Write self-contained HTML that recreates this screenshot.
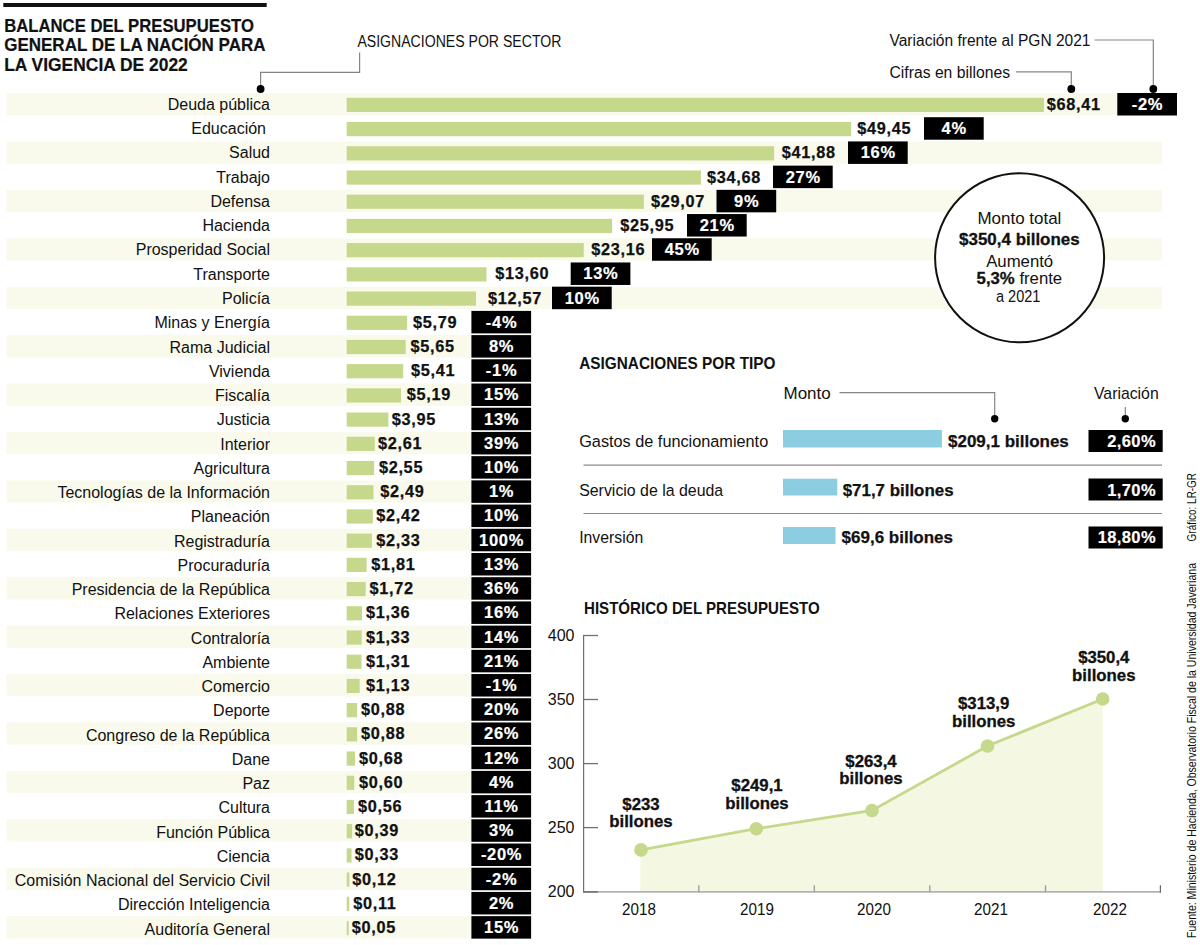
<!DOCTYPE html><html><head><meta charset="utf-8"><style>html,body{margin:0;padding:0;background:#fff;}body{width:1200px;height:945px;overflow:hidden;}svg{display:block;font-family:"Liberation Sans",sans-serif;}</style></head><body>
<svg width="1200" height="945" viewBox="0 0 1200 945">
<rect x="0" y="0" width="1200" height="945" fill="#fff"/>
<rect x="6.5" y="93.00" width="1155.50" height="22.3" fill="#f9faec"/>
<rect x="6.5" y="141.42" width="1155.50" height="22.3" fill="#f9faec"/>
<rect x="6.5" y="189.84" width="1155.50" height="22.3" fill="#f9faec"/>
<rect x="6.5" y="238.26" width="1155.50" height="22.3" fill="#f9faec"/>
<rect x="6.5" y="286.68" width="1155.50" height="22.3" fill="#f9faec"/>
<rect x="6.5" y="335.10" width="465.00" height="22.3" fill="#f9faec"/>
<rect x="6.5" y="383.52" width="465.00" height="22.3" fill="#f9faec"/>
<rect x="6.5" y="431.94" width="465.00" height="22.3" fill="#f9faec"/>
<rect x="6.5" y="480.36" width="465.00" height="22.3" fill="#f9faec"/>
<rect x="6.5" y="528.78" width="465.00" height="22.3" fill="#f9faec"/>
<rect x="6.5" y="577.20" width="465.00" height="22.3" fill="#f9faec"/>
<rect x="6.5" y="625.62" width="465.00" height="22.3" fill="#f9faec"/>
<rect x="6.5" y="674.04" width="465.00" height="22.3" fill="#f9faec"/>
<rect x="6.5" y="722.46" width="465.00" height="22.3" fill="#f9faec"/>
<rect x="6.5" y="770.88" width="465.00" height="22.3" fill="#f9faec"/>
<rect x="6.5" y="819.30" width="465.00" height="22.3" fill="#f9faec"/>
<rect x="6.5" y="867.72" width="465.00" height="22.3" fill="#f9faec"/>
<rect x="6.5" y="916.14" width="465.00" height="22.3" fill="#f9faec"/>
<circle cx="1019.6" cy="257.8" r="84.5" fill="#fff" stroke="#111" stroke-width="2"/>
<rect x="346.7" y="97.80" width="697.23" height="14.2" fill="#c5d88b"/>
<text x="270" y="109.90" font-size="16" text-anchor="end" fill="#111">Deuda pública</text>
<text x="1046.80" y="109.90" font-size="16.3" letter-spacing="0.7" font-weight="bold" fill="#111" stroke="#111" stroke-width="0.25">$68,41</text>
<rect x="1117.3" y="93.00" width="59.7" height="22.5" fill="#000"/>
<text x="1147.50" y="109.90" font-size="16.5" letter-spacing="0.7" font-weight="bold" fill="#fff" stroke="#fff" stroke-width="0.2" text-anchor="middle">-2%</text>
<rect x="346.7" y="122.01" width="504.41" height="14.2" fill="#c5d88b"/>
<text x="266" y="134.16" font-size="16" text-anchor="end" fill="#111">Educación</text>
<text x="857.30" y="134.11" font-size="16.3" letter-spacing="0.7" font-weight="bold" fill="#111" stroke="#111" stroke-width="0.25">$49,45</text>
<rect x="924" y="117.21" width="59.7" height="22.5" fill="#000"/>
<text x="954.20" y="134.11" font-size="16.5" letter-spacing="0.7" font-weight="bold" fill="#fff" stroke="#fff" stroke-width="0.2" text-anchor="middle">4%</text>
<rect x="346.7" y="146.22" width="427.42" height="14.2" fill="#c5d88b"/>
<text x="270" y="158.42" font-size="16" text-anchor="end" fill="#111">Salud</text>
<text x="781.70" y="158.32" font-size="16.3" letter-spacing="0.7" font-weight="bold" fill="#111" stroke="#111" stroke-width="0.25">$41,88</text>
<rect x="848" y="141.42" width="59.7" height="22.5" fill="#000"/>
<text x="878.20" y="158.32" font-size="16.5" letter-spacing="0.7" font-weight="bold" fill="#fff" stroke="#fff" stroke-width="0.2" text-anchor="middle">16%</text>
<rect x="346.7" y="170.43" width="354.20" height="14.2" fill="#c5d88b"/>
<text x="270" y="182.68" font-size="16" text-anchor="end" fill="#111">Trabajo</text>
<text x="707.00" y="182.53" font-size="16.3" letter-spacing="0.7" font-weight="bold" fill="#111" stroke="#111" stroke-width="0.25">$34,68</text>
<rect x="773" y="165.63" width="59.7" height="22.5" fill="#000"/>
<text x="803.20" y="182.53" font-size="16.5" letter-spacing="0.7" font-weight="bold" fill="#fff" stroke="#fff" stroke-width="0.2" text-anchor="middle">27%</text>
<rect x="346.7" y="194.64" width="297.14" height="14.2" fill="#c5d88b"/>
<text x="270" y="206.94" font-size="16" text-anchor="end" fill="#111">Defensa</text>
<text x="650.90" y="206.74" font-size="16.3" letter-spacing="0.7" font-weight="bold" fill="#111" stroke="#111" stroke-width="0.25">$29,07</text>
<rect x="716.5" y="189.84" width="59.7" height="22.5" fill="#000"/>
<text x="746.70" y="206.74" font-size="16.5" letter-spacing="0.7" font-weight="bold" fill="#fff" stroke="#fff" stroke-width="0.2" text-anchor="middle">9%</text>
<rect x="346.7" y="218.85" width="265.41" height="14.2" fill="#c5d88b"/>
<text x="270" y="231.20" font-size="16" text-anchor="end" fill="#111">Hacienda</text>
<text x="620.30" y="230.95" font-size="16.3" letter-spacing="0.7" font-weight="bold" fill="#111" stroke="#111" stroke-width="0.25">$25,95</text>
<rect x="687" y="214.05" width="59.7" height="22.5" fill="#000"/>
<text x="717.20" y="230.95" font-size="16.5" letter-spacing="0.7" font-weight="bold" fill="#fff" stroke="#fff" stroke-width="0.2" text-anchor="middle">21%</text>
<rect x="346.7" y="243.06" width="237.04" height="14.2" fill="#c5d88b"/>
<text x="270" y="255.46" font-size="16" text-anchor="end" fill="#111">Prosperidad Social</text>
<text x="591.30" y="255.16" font-size="16.3" letter-spacing="0.7" font-weight="bold" fill="#111" stroke="#111" stroke-width="0.25">$23,16</text>
<rect x="652" y="238.26" width="59.7" height="22.5" fill="#000"/>
<text x="682.20" y="255.16" font-size="16.5" letter-spacing="0.7" font-weight="bold" fill="#fff" stroke="#fff" stroke-width="0.2" text-anchor="middle">45%</text>
<rect x="346.7" y="267.27" width="139.81" height="14.2" fill="#c5d88b"/>
<text x="270" y="279.72" font-size="16" text-anchor="end" fill="#111">Transporte</text>
<text x="495.30" y="279.37" font-size="16.3" letter-spacing="0.7" font-weight="bold" fill="#111" stroke="#111" stroke-width="0.25">$13,60</text>
<rect x="570.7" y="262.47" width="59.7" height="22.5" fill="#000"/>
<text x="600.90" y="279.37" font-size="16.5" letter-spacing="0.7" font-weight="bold" fill="#fff" stroke="#fff" stroke-width="0.2" text-anchor="middle">13%</text>
<rect x="346.7" y="291.48" width="129.34" height="14.2" fill="#c5d88b"/>
<text x="270" y="303.98" font-size="16" text-anchor="end" fill="#111">Policía</text>
<text x="488.10" y="303.58" font-size="16.3" letter-spacing="0.7" font-weight="bold" fill="#111" stroke="#111" stroke-width="0.25">$12,57</text>
<rect x="552" y="286.68" width="59.7" height="22.5" fill="#000"/>
<text x="582.20" y="303.58" font-size="16.5" letter-spacing="0.7" font-weight="bold" fill="#fff" stroke="#fff" stroke-width="0.2" text-anchor="middle">10%</text>
<rect x="346.7" y="315.69" width="60.38" height="14.2" fill="#c5d88b"/>
<text x="270" y="328.24" font-size="16" text-anchor="end" fill="#111">Minas y Energía</text>
<text x="413.05" y="327.79" font-size="16.3" letter-spacing="0.7" font-weight="bold" fill="#111" stroke="#111" stroke-width="0.25">$5,79</text>
<rect x="471.4" y="310.89" width="59.7" height="22.5" fill="#000"/>
<text x="501.60" y="327.79" font-size="16.5" letter-spacing="0.7" font-weight="bold" fill="#fff" stroke="#fff" stroke-width="0.2" text-anchor="middle">-4%</text>
<rect x="346.7" y="339.90" width="58.96" height="14.2" fill="#c5d88b"/>
<text x="270" y="352.50" font-size="16" text-anchor="end" fill="#111">Rama Judicial</text>
<text x="410.55" y="352.00" font-size="16.3" letter-spacing="0.7" font-weight="bold" fill="#111" stroke="#111" stroke-width="0.25">$5,65</text>
<rect x="471.4" y="335.10" width="59.7" height="22.5" fill="#000"/>
<text x="501.60" y="352.00" font-size="16.5" letter-spacing="0.7" font-weight="bold" fill="#fff" stroke="#fff" stroke-width="0.2" text-anchor="middle">8%</text>
<rect x="346.7" y="364.11" width="56.52" height="14.2" fill="#c5d88b"/>
<text x="270" y="376.76" font-size="16" text-anchor="end" fill="#111">Vivienda</text>
<text x="411.05" y="376.21" font-size="16.3" letter-spacing="0.7" font-weight="bold" fill="#111" stroke="#111" stroke-width="0.25">$5,41</text>
<rect x="471.4" y="359.31" width="59.7" height="22.5" fill="#000"/>
<text x="501.60" y="376.21" font-size="16.5" letter-spacing="0.7" font-weight="bold" fill="#fff" stroke="#fff" stroke-width="0.2" text-anchor="middle">-1%</text>
<rect x="346.7" y="388.32" width="54.28" height="14.2" fill="#c5d88b"/>
<text x="270" y="401.02" font-size="16" text-anchor="end" fill="#111">Fiscalía</text>
<text x="406.80" y="400.42" font-size="16.3" letter-spacing="0.7" font-weight="bold" fill="#111" stroke="#111" stroke-width="0.25">$5,19</text>
<rect x="471.4" y="383.52" width="59.7" height="22.5" fill="#000"/>
<text x="501.60" y="400.42" font-size="16.5" letter-spacing="0.7" font-weight="bold" fill="#fff" stroke="#fff" stroke-width="0.2" text-anchor="middle">15%</text>
<rect x="346.7" y="412.53" width="41.67" height="14.2" fill="#c5d88b"/>
<text x="270" y="425.28" font-size="16" text-anchor="end" fill="#111">Justicia</text>
<text x="391.80" y="424.63" font-size="16.3" letter-spacing="0.7" font-weight="bold" fill="#111" stroke="#111" stroke-width="0.25">$3,95</text>
<rect x="471.4" y="407.73" width="59.7" height="22.5" fill="#000"/>
<text x="501.60" y="424.63" font-size="16.5" letter-spacing="0.7" font-weight="bold" fill="#fff" stroke="#fff" stroke-width="0.2" text-anchor="middle">13%</text>
<rect x="346.7" y="436.74" width="28.04" height="14.2" fill="#c5d88b"/>
<text x="270" y="449.54" font-size="16" text-anchor="end" fill="#111">Interior</text>
<text x="378.05" y="448.84" font-size="16.3" letter-spacing="0.7" font-weight="bold" fill="#111" stroke="#111" stroke-width="0.25">$2,61</text>
<rect x="471.4" y="431.94" width="59.7" height="22.5" fill="#000"/>
<text x="501.60" y="448.84" font-size="16.5" letter-spacing="0.7" font-weight="bold" fill="#fff" stroke="#fff" stroke-width="0.2" text-anchor="middle">39%</text>
<rect x="346.7" y="460.95" width="27.43" height="14.2" fill="#c5d88b"/>
<text x="270" y="473.80" font-size="16" text-anchor="end" fill="#111">Agricultura</text>
<text x="378.90" y="473.05" font-size="16.3" letter-spacing="0.7" font-weight="bold" fill="#111" stroke="#111" stroke-width="0.25">$2,55</text>
<rect x="471.4" y="456.15" width="59.7" height="22.5" fill="#000"/>
<text x="501.60" y="473.05" font-size="16.5" letter-spacing="0.7" font-weight="bold" fill="#fff" stroke="#fff" stroke-width="0.2" text-anchor="middle">10%</text>
<rect x="346.7" y="485.16" width="26.82" height="14.2" fill="#c5d88b"/>
<text x="270" y="498.06" font-size="16" text-anchor="end" fill="#111">Tecnologías de la Información</text>
<text x="380.30" y="497.26" font-size="16.3" letter-spacing="0.7" font-weight="bold" fill="#111" stroke="#111" stroke-width="0.25">$2,49</text>
<rect x="471.4" y="480.36" width="59.7" height="22.5" fill="#000"/>
<text x="501.60" y="497.26" font-size="16.5" letter-spacing="0.7" font-weight="bold" fill="#fff" stroke="#fff" stroke-width="0.2" text-anchor="middle">1%</text>
<rect x="346.7" y="509.37" width="26.11" height="14.2" fill="#c5d88b"/>
<text x="270" y="522.32" font-size="16" text-anchor="end" fill="#111">Planeación</text>
<text x="376.20" y="521.47" font-size="16.3" letter-spacing="0.7" font-weight="bold" fill="#111" stroke="#111" stroke-width="0.25">$2,42</text>
<rect x="471.4" y="504.57" width="59.7" height="22.5" fill="#000"/>
<text x="501.60" y="521.47" font-size="16.5" letter-spacing="0.7" font-weight="bold" fill="#fff" stroke="#fff" stroke-width="0.2" text-anchor="middle">10%</text>
<rect x="346.7" y="533.58" width="25.20" height="14.2" fill="#c5d88b"/>
<text x="270" y="546.58" font-size="16" text-anchor="end" fill="#111">Registraduría</text>
<text x="376.20" y="545.68" font-size="16.3" letter-spacing="0.7" font-weight="bold" fill="#111" stroke="#111" stroke-width="0.25">$2,33</text>
<rect x="471.4" y="528.78" width="59.7" height="22.5" fill="#000"/>
<text x="501.60" y="545.68" font-size="16.5" letter-spacing="0.7" font-weight="bold" fill="#fff" stroke="#fff" stroke-width="0.2" text-anchor="middle">100%</text>
<rect x="346.7" y="557.79" width="19.91" height="14.2" fill="#c5d88b"/>
<text x="270" y="570.84" font-size="16" text-anchor="end" fill="#111">Procuraduría</text>
<text x="371.30" y="569.89" font-size="16.3" letter-spacing="0.7" font-weight="bold" fill="#111" stroke="#111" stroke-width="0.25">$1,81</text>
<rect x="471.4" y="552.99" width="59.7" height="22.5" fill="#000"/>
<text x="501.60" y="569.89" font-size="16.5" letter-spacing="0.7" font-weight="bold" fill="#fff" stroke="#fff" stroke-width="0.2" text-anchor="middle">13%</text>
<rect x="346.7" y="582.00" width="18.99" height="14.2" fill="#c5d88b"/>
<text x="270" y="595.10" font-size="16" text-anchor="end" fill="#111">Presidencia de la República</text>
<text x="369.50" y="594.10" font-size="16.3" letter-spacing="0.7" font-weight="bold" fill="#111" stroke="#111" stroke-width="0.25">$1,72</text>
<rect x="471.4" y="577.20" width="59.7" height="22.5" fill="#000"/>
<text x="501.60" y="594.10" font-size="16.5" letter-spacing="0.7" font-weight="bold" fill="#fff" stroke="#fff" stroke-width="0.2" text-anchor="middle">36%</text>
<rect x="346.7" y="606.21" width="15.33" height="14.2" fill="#c5d88b"/>
<text x="270" y="619.36" font-size="16" text-anchor="end" fill="#111">Relaciones Exteriores</text>
<text x="366.10" y="618.31" font-size="16.3" letter-spacing="0.7" font-weight="bold" fill="#111" stroke="#111" stroke-width="0.25">$1,36</text>
<rect x="471.4" y="601.41" width="59.7" height="22.5" fill="#000"/>
<text x="501.60" y="618.31" font-size="16.5" letter-spacing="0.7" font-weight="bold" fill="#fff" stroke="#fff" stroke-width="0.2" text-anchor="middle">16%</text>
<rect x="346.7" y="630.42" width="15.03" height="14.2" fill="#c5d88b"/>
<text x="270" y="643.62" font-size="16" text-anchor="end" fill="#111">Contraloría</text>
<text x="366.10" y="642.52" font-size="16.3" letter-spacing="0.7" font-weight="bold" fill="#111" stroke="#111" stroke-width="0.25">$1,33</text>
<rect x="471.4" y="625.62" width="59.7" height="22.5" fill="#000"/>
<text x="501.60" y="642.52" font-size="16.5" letter-spacing="0.7" font-weight="bold" fill="#fff" stroke="#fff" stroke-width="0.2" text-anchor="middle">14%</text>
<rect x="346.7" y="654.63" width="14.82" height="14.2" fill="#c5d88b"/>
<text x="270" y="667.88" font-size="16" text-anchor="end" fill="#111">Ambiente</text>
<text x="366.10" y="666.73" font-size="16.3" letter-spacing="0.7" font-weight="bold" fill="#111" stroke="#111" stroke-width="0.25">$1,31</text>
<rect x="471.4" y="649.83" width="59.7" height="22.5" fill="#000"/>
<text x="501.60" y="666.73" font-size="16.5" letter-spacing="0.7" font-weight="bold" fill="#fff" stroke="#fff" stroke-width="0.2" text-anchor="middle">21%</text>
<rect x="346.7" y="678.84" width="12.99" height="14.2" fill="#c5d88b"/>
<text x="270" y="692.14" font-size="16" text-anchor="end" fill="#111">Comercio</text>
<text x="366.10" y="690.94" font-size="16.3" letter-spacing="0.7" font-weight="bold" fill="#111" stroke="#111" stroke-width="0.25">$1,13</text>
<rect x="471.4" y="674.04" width="59.7" height="22.5" fill="#000"/>
<text x="501.60" y="690.94" font-size="16.5" letter-spacing="0.7" font-weight="bold" fill="#fff" stroke="#fff" stroke-width="0.2" text-anchor="middle">-1%</text>
<rect x="346.7" y="703.05" width="10.45" height="14.2" fill="#c5d88b"/>
<text x="270" y="716.40" font-size="16" text-anchor="end" fill="#111">Deporte</text>
<text x="361.00" y="715.15" font-size="16.3" letter-spacing="0.7" font-weight="bold" fill="#111" stroke="#111" stroke-width="0.25">$0,88</text>
<rect x="471.4" y="698.25" width="59.7" height="22.5" fill="#000"/>
<text x="501.60" y="715.15" font-size="16.5" letter-spacing="0.7" font-weight="bold" fill="#fff" stroke="#fff" stroke-width="0.2" text-anchor="middle">20%</text>
<rect x="346.7" y="727.26" width="10.45" height="14.2" fill="#c5d88b"/>
<text x="270" y="740.66" font-size="16" text-anchor="end" fill="#111">Congreso de la República</text>
<text x="361.00" y="739.36" font-size="16.3" letter-spacing="0.7" font-weight="bold" fill="#111" stroke="#111" stroke-width="0.25">$0,88</text>
<rect x="471.4" y="722.46" width="59.7" height="22.5" fill="#000"/>
<text x="501.60" y="739.36" font-size="16.5" letter-spacing="0.7" font-weight="bold" fill="#fff" stroke="#fff" stroke-width="0.2" text-anchor="middle">26%</text>
<rect x="346.7" y="751.47" width="8.42" height="14.2" fill="#c5d88b"/>
<text x="270" y="764.92" font-size="16" text-anchor="end" fill="#111">Dane</text>
<text x="359.00" y="763.57" font-size="16.3" letter-spacing="0.7" font-weight="bold" fill="#111" stroke="#111" stroke-width="0.25">$0,68</text>
<rect x="471.4" y="746.67" width="59.7" height="22.5" fill="#000"/>
<text x="501.60" y="763.57" font-size="16.5" letter-spacing="0.7" font-weight="bold" fill="#fff" stroke="#fff" stroke-width="0.2" text-anchor="middle">12%</text>
<rect x="346.7" y="775.68" width="7.60" height="14.2" fill="#c5d88b"/>
<text x="270" y="789.18" font-size="16" text-anchor="end" fill="#111">Paz</text>
<text x="359.00" y="787.78" font-size="16.3" letter-spacing="0.7" font-weight="bold" fill="#111" stroke="#111" stroke-width="0.25">$0,60</text>
<rect x="471.4" y="770.88" width="59.7" height="22.5" fill="#000"/>
<text x="501.60" y="787.78" font-size="16.5" letter-spacing="0.7" font-weight="bold" fill="#fff" stroke="#fff" stroke-width="0.2" text-anchor="middle">4%</text>
<rect x="346.7" y="799.89" width="7.20" height="14.2" fill="#c5d88b"/>
<text x="270" y="813.44" font-size="16" text-anchor="end" fill="#111">Cultura</text>
<text x="358.10" y="811.99" font-size="16.3" letter-spacing="0.7" font-weight="bold" fill="#111" stroke="#111" stroke-width="0.25">$0,56</text>
<rect x="471.4" y="795.09" width="59.7" height="22.5" fill="#000"/>
<text x="501.60" y="811.99" font-size="16.5" letter-spacing="0.7" font-weight="bold" fill="#fff" stroke="#fff" stroke-width="0.2" text-anchor="middle">11%</text>
<rect x="346.7" y="824.10" width="5.47" height="14.2" fill="#c5d88b"/>
<text x="270" y="837.70" font-size="16" text-anchor="end" fill="#111">Función Pública</text>
<text x="354.70" y="836.20" font-size="16.3" letter-spacing="0.7" font-weight="bold" fill="#111" stroke="#111" stroke-width="0.25">$0,39</text>
<rect x="471.4" y="819.30" width="59.7" height="22.5" fill="#000"/>
<text x="501.60" y="836.20" font-size="16.5" letter-spacing="0.7" font-weight="bold" fill="#fff" stroke="#fff" stroke-width="0.2" text-anchor="middle">3%</text>
<rect x="346.7" y="848.31" width="4.86" height="14.2" fill="#c5d88b"/>
<text x="270" y="861.96" font-size="16" text-anchor="end" fill="#111">Ciencia</text>
<text x="354.70" y="860.41" font-size="16.3" letter-spacing="0.7" font-weight="bold" fill="#111" stroke="#111" stroke-width="0.25">$0,33</text>
<rect x="471.4" y="843.51" width="59.7" height="22.5" fill="#000"/>
<text x="501.60" y="860.41" font-size="16.5" letter-spacing="0.7" font-weight="bold" fill="#fff" stroke="#fff" stroke-width="0.2" text-anchor="middle">-20%</text>
<rect x="346.7" y="872.52" width="2.72" height="14.2" fill="#c5d88b"/>
<text x="270" y="886.22" font-size="16" text-anchor="end" fill="#111">Comisión Nacional del Servicio Civil</text>
<text x="352.20" y="884.62" font-size="16.3" letter-spacing="0.7" font-weight="bold" fill="#111" stroke="#111" stroke-width="0.25">$0,12</text>
<rect x="471.4" y="867.72" width="59.7" height="22.5" fill="#000"/>
<text x="501.60" y="884.62" font-size="16.5" letter-spacing="0.7" font-weight="bold" fill="#fff" stroke="#fff" stroke-width="0.2" text-anchor="middle">-2%</text>
<rect x="346.7" y="896.73" width="2.62" height="14.2" fill="#c5d88b"/>
<text x="270" y="910.48" font-size="16" text-anchor="end" fill="#111">Dirección Inteligencia</text>
<text x="353.20" y="908.83" font-size="16.3" letter-spacing="0.7" font-weight="bold" fill="#111" stroke="#111" stroke-width="0.25">$0,11</text>
<rect x="471.4" y="891.93" width="59.7" height="22.5" fill="#000"/>
<text x="501.60" y="908.83" font-size="16.5" letter-spacing="0.7" font-weight="bold" fill="#fff" stroke="#fff" stroke-width="0.2" text-anchor="middle">2%</text>
<rect x="346.7" y="920.94" width="2.01" height="14.2" fill="#c5d88b"/>
<text x="270" y="934.74" font-size="16" text-anchor="end" fill="#111">Auditoría General</text>
<text x="351.80" y="933.04" font-size="16.3" letter-spacing="0.7" font-weight="bold" fill="#111" stroke="#111" stroke-width="0.25">$0,05</text>
<rect x="471.4" y="916.14" width="59.7" height="22.5" fill="#000"/>
<text x="501.60" y="933.04" font-size="16.5" letter-spacing="0.7" font-weight="bold" fill="#fff" stroke="#fff" stroke-width="0.2" text-anchor="middle">15%</text>
<rect x="3.3" y="3" width="263.4" height="4" fill="#111"/>
<text font-size="17.6" font-weight="bold" fill="#111" stroke="#111" stroke-width="0.2"><tspan x="4.2" y="31.5" textLength="249.7" lengthAdjust="spacingAndGlyphs">BALANCE DEL PRESUPUESTO</tspan><tspan x="4.2" y="51.3" textLength="261.3" lengthAdjust="spacingAndGlyphs">GENERAL DE LA NACIÓN PARA</tspan><tspan x="4.2" y="71.1" textLength="183.6" lengthAdjust="spacingAndGlyphs">LA VIGENCIA DE 2022</tspan></text>
<text x="357.4" y="46.6" font-size="16" fill="#111" textLength="204" lengthAdjust="spacingAndGlyphs">ASIGNACIONES POR SECTOR</text>
<text x="889.5" y="46.3" font-size="15.6" fill="#111" textLength="201" lengthAdjust="spacingAndGlyphs">Variación frente al PGN 2021</text>
<text x="889.5" y="77.5" font-size="15.6" fill="#111" textLength="120.5" lengthAdjust="spacingAndGlyphs">Cifras en billones</text>
<g fill="none" stroke="#858585" stroke-width="1.2"><polyline points="260.6,89 260.6,72.4 359.6,72.4 359.6,52.4"/><polyline points="1094.5,40 1153.3,40 1153.3,89"/><polyline points="1016,71.8 1071.3,71.8 1071.3,89"/><polyline points="839.5,392.7 994.7,392.7 994.7,418.8"/><polyline points="1125.3,407 1125.3,418.8"/></g>
<g fill="#000"><circle cx="260.6" cy="89" r="3.9"/><circle cx="1153.3" cy="89" r="3.9"/><circle cx="1071.3" cy="89" r="3.9"/><circle cx="994.7" cy="418.8" r="3.7"/><circle cx="1125.3" cy="418.8" r="3.7"/></g>
<g fill="#111" text-anchor="middle"><text x="1019.4" y="224" font-size="16.8" textLength="84" lengthAdjust="spacingAndGlyphs">Monto total</text><text x="1019.4" y="245" font-size="16.8" font-weight="bold" stroke="#111" stroke-width="0.3" textLength="120.6" lengthAdjust="spacingAndGlyphs">$350,4 billones</text><text x="1019.7" y="266.7" font-size="16.8" textLength="67" lengthAdjust="spacingAndGlyphs">Aumentó</text><text x="1019.4" y="284.2" font-size="16.8" textLength="85.6" lengthAdjust="spacingAndGlyphs"><tspan font-weight="bold" stroke="#111" stroke-width="0.3">5,3%</tspan> frente</text><text x="1018.2" y="302.1" font-size="16.8" textLength="44.4" lengthAdjust="spacingAndGlyphs">a 2021</text></g>
<text x="579.2" y="368.8" font-size="17" font-weight="bold" fill="#111" textLength="196.3" lengthAdjust="spacingAndGlyphs">ASIGNACIONES POR TIPO</text>
<text x="783.5" y="399.2" font-size="17" fill="#111" textLength="47.2" lengthAdjust="spacingAndGlyphs">Monto</text>
<text x="1094" y="398.8" font-size="16.2" fill="#111" textLength="64.7" lengthAdjust="spacingAndGlyphs">Variación</text>
<text x="579.2" y="447.2" font-size="16.8" fill="#111" textLength="189" lengthAdjust="spacingAndGlyphs">Gastos de funcionamiento</text>
<rect x="783" y="430" width="158.9" height="17.5" fill="#8dcde2"/>
<text x="948" y="447.2" font-size="17" font-weight="bold" fill="#111" stroke="#111" stroke-width="0.25" textLength="120.8" lengthAdjust="spacingAndGlyphs">$209,1 billones</text>
<rect x="1088.5" y="430" width="74.2" height="22" fill="#000"/>
<text x="1156" y="447.2" font-size="16.5" font-weight="bold" fill="#fff" stroke="#fff" stroke-width="0.2" letter-spacing="0.4" text-anchor="end">2,60%</text>
<text x="579.2" y="495.5" font-size="16.8" fill="#111" textLength="144" lengthAdjust="spacingAndGlyphs">Servicio de la deuda</text>
<rect x="783" y="478.7" width="54.3" height="16.8" fill="#8dcde2"/>
<text x="842.7" y="495.5" font-size="17" font-weight="bold" fill="#111" stroke="#111" stroke-width="0.25" textLength="110.9" lengthAdjust="spacingAndGlyphs">$71,7 billones</text>
<rect x="1088.5" y="478.5" width="74.2" height="22" fill="#000"/>
<text x="1156" y="495.5" font-size="16.5" font-weight="bold" fill="#fff" stroke="#fff" stroke-width="0.2" letter-spacing="0.4" text-anchor="end">1,70%</text>
<text x="579.2" y="543.2" font-size="16.8" fill="#111" textLength="64" lengthAdjust="spacingAndGlyphs">Inversión</text>
<rect x="783" y="527" width="52.5" height="17" fill="#8dcde2"/>
<text x="841.6" y="543.2" font-size="17" font-weight="bold" fill="#111" stroke="#111" stroke-width="0.25" textLength="111.4" lengthAdjust="spacingAndGlyphs">$69,6 billones</text>
<rect x="1088.5" y="526.5" width="74.2" height="22" fill="#000"/>
<text x="1156" y="543.2" font-size="16.5" font-weight="bold" fill="#fff" stroke="#fff" stroke-width="0.2" letter-spacing="0.4" text-anchor="end">18,80%</text>
<g stroke="#8a8a8a" stroke-width="1.2"><line x1="583.5" y1="465.2" x2="1162" y2="465.2"/><line x1="583.5" y1="513.5" x2="1162" y2="513.5"/></g>
<text transform="translate(1196.4,541.4) rotate(-90)" font-size="12.6" fill="#111" textLength="68.4" lengthAdjust="spacingAndGlyphs">Gráfico: LR-GR</text>
<text transform="translate(1196.0,938) rotate(-90)" font-size="12.4" fill="#111" textLength="375" lengthAdjust="spacingAndGlyphs">Fuente: Ministerio de Hacienda, Observatorio Fiscal de la Universidad Javeriana</text>
<text x="584" y="614" font-size="17" font-weight="bold" fill="#111" textLength="235.7" lengthAdjust="spacingAndGlyphs">HISTÓRICO DEL PRESUPUESTO</text>
<polygon points="640.4,849.9 641,849.9 756.3,828.7 872,810.5 987.5,746 1102.7,699 1102.7,891 640.4,891" fill="#f4f7e1"/>
<g stroke="#707070" stroke-width="1.3" fill="none">
<line x1="583.6" y1="635" x2="583.6" y2="892.6" stroke-width="1.2"/>
<line x1="583" y1="635.5" x2="598" y2="635.5"/>
<line x1="583" y1="699.5" x2="598" y2="699.5"/>
<line x1="583" y1="763.6" x2="598" y2="763.6"/>
<line x1="583" y1="827.6" x2="598" y2="827.6"/>
</g>
<g stroke="#b3b3b3" stroke-width="1.8" fill="none"><line x1="583" y1="891.9" x2="1160.4" y2="891.9"/>
</g>
<line x1="698.8" y1="885.2" x2="698.8" y2="892" stroke="#999" stroke-width="1.3"/>
<line x1="814.3" y1="885.2" x2="814.3" y2="892" stroke="#999" stroke-width="1.3"/>
<line x1="929.8" y1="885.2" x2="929.8" y2="892" stroke="#999" stroke-width="1.3"/>
<line x1="1045.5" y1="885.2" x2="1045.5" y2="892" stroke="#999" stroke-width="1.3"/>
<line x1="1160.4" y1="885.2" x2="1160.4" y2="892.8" stroke="#666" stroke-width="1.2"/>
<line x1="583" y1="891.9" x2="598" y2="891.9" stroke="#7a7a7a" stroke-width="1.8"/>
<text x="574.5" y="641.1" font-size="16" text-anchor="end" fill="#111">400</text>
<text x="574.5" y="705.1" font-size="16" text-anchor="end" fill="#111">350</text>
<text x="574.5" y="769.2" font-size="16" text-anchor="end" fill="#111">300</text>
<text x="574.5" y="833.2" font-size="16" text-anchor="end" fill="#111">250</text>
<text x="574.5" y="897.3" font-size="16" text-anchor="end" fill="#111">200</text>
<text x="639" y="915.3" font-size="16.3" text-anchor="middle" fill="#111" textLength="33.8" lengthAdjust="spacingAndGlyphs">2018</text>
<text x="757" y="915.3" font-size="16.3" text-anchor="middle" fill="#111" textLength="33.8" lengthAdjust="spacingAndGlyphs">2019</text>
<text x="874" y="915.3" font-size="16.3" text-anchor="middle" fill="#111" textLength="33.8" lengthAdjust="spacingAndGlyphs">2020</text>
<text x="991" y="915.3" font-size="16.3" text-anchor="middle" fill="#111" textLength="33.8" lengthAdjust="spacingAndGlyphs">2021</text>
<text x="1110" y="915.3" font-size="16.3" text-anchor="middle" fill="#111" textLength="33.8" lengthAdjust="spacingAndGlyphs">2022</text>
<polyline points="641,849.9 756.3,828.7 872,810.5 987.5,746 1102.7,699" fill="none" stroke="#c5d88b" stroke-width="2.8"/>
<circle cx="641" cy="849.9" r="6.8" fill="#c5d88b"/>
<circle cx="756.3" cy="828.7" r="6.8" fill="#c5d88b"/>
<circle cx="872" cy="810.5" r="6.8" fill="#c5d88b"/>
<circle cx="987.5" cy="746" r="6.8" fill="#c5d88b"/>
<circle cx="1102.7" cy="699" r="6.8" fill="#c5d88b"/>
<g font-size="16.8" font-weight="bold" fill="#111" stroke="#111" stroke-width="0.3" text-anchor="middle">
<text x="641" y="810">$233</text><text x="641" y="827.3">billones</text>
<text x="757" y="791.4">$249,1</text><text x="757" y="808.8">billones</text>
<text x="871" y="767.3">$263,4</text><text x="871" y="784">billones</text>
<text x="983.7" y="709.4">$313,9</text><text x="983.7" y="726.8">billones</text>
<text x="1103.8" y="663">$350,4</text><text x="1103.8" y="681.2">billones</text>
</g>
</svg></body></html>
